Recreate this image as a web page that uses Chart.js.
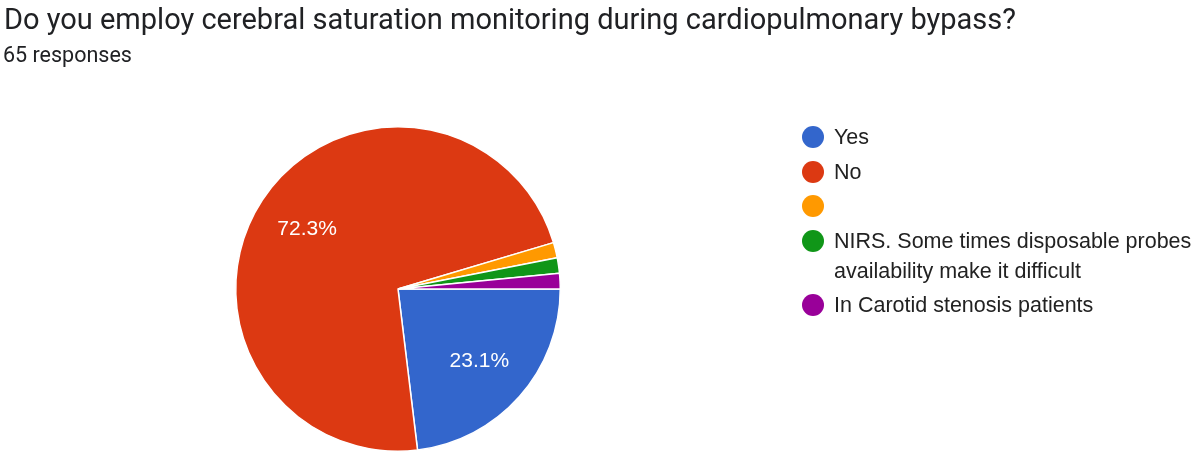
<!DOCTYPE html>
<html>
<head>
<meta charset="utf-8">
<script src="https://cdn.jsdelivr.net/npm/chart.js@4/dist/chart.umd.min.js"></script>
<style>
  body { margin: 0; background: #fff; width: 1200px; height: 456px; overflow: hidden; position: relative; }
  #title { position: absolute; left: 4px; top: 2px; font: 29px Roboto, sans-serif; color: #202124; white-space: nowrap; }
  #sub { position: absolute; left: 3px; top: 42px; font: 21.5px Roboto, sans-serif; color: #202124; }
  #wrap { position: absolute; left: 0; top: 0; width: 1200px; height: 456px; }
  #legend { position: absolute; left: 802px; top: 122px; font: 21.5px "Liberation Sans", Arial, sans-serif; color: #222; }
  .item { display: flex; align-items: flex-start; margin-bottom: 4.5px; line-height: 30px; }
  .dot { width: 22px; height: 22px; border-radius: 50%; flex: none; margin-right: 10px; margin-top: 4px; }
</style>
</head>
<body>
<div id="wrap"><canvas id="chart" width="1200" height="456"></canvas></div>
<div id="title">Do you employ cerebral saturation monitoring during cardiopulmonary bypass?</div>
<div id="sub">65 responses</div>
<div id="legend"></div>
<script>
const labels = ["Yes", "No", "", "NIRS. Some times disposable probes\navailability make it difficult", "In Carotid stenosis patients"];
const counts = [15, 47, 1, 1, 1];
const colors = ["#3366cc", "#dc3912", "#ff9900", "#109618", "#990099"];

// legend
const legend = document.getElementById("legend");
labels.forEach((l, i) => {
  const row = document.createElement("div");
  row.className = "item";
  const dot = document.createElement("span");
  dot.className = "dot";
  dot.style.background = colors[i];
  const txt = document.createElement("span");
  txt.innerHTML = l.split("\n").join("<br>") || "&nbsp;";
  row.appendChild(dot);
  row.appendChild(txt);
  legend.appendChild(row);
});

const total = counts.reduce((a, b) => a + b, 0);

const pctLabels = {
  id: "pctLabels",
  afterDatasetsDraw(chart) {
    const ctx = chart.ctx;
    const meta = chart.getDatasetMeta(0);
    ctx.save();
    ctx.fillStyle = "#fff";
    ctx.font = "21px 'Liberation Sans', Arial, sans-serif";
    ctx.textAlign = "center";
    ctx.textBaseline = "middle";
    meta.data.forEach((arc, i) => {
      const frac = counts[i] / total;
      if (frac < 0.05) return;
      const mid = (arc.startAngle + arc.endAngle) / 2;
      const r = arc.outerRadius * 0.67;
      ctx.fillText((frac * 100).toFixed(1) + "%", arc.x + Math.cos(mid) * r, arc.y + Math.sin(mid) * r);
    });
    ctx.restore();
  }
};

new Chart(document.getElementById("chart"), {
  type: "pie",
  data: {
    labels,
    datasets: [{
      data: counts,
      backgroundColor: colors,
      borderColor: "#fff",
      borderWidth: 1.5
    }]
  },
  options: {
    responsive: false,
    animation: false,
    rotation: 90,
    layout: { padding: { left: 235, right: 639, top: 126, bottom: 4 } },
    plugins: { legend: { display: false }, tooltip: { enabled: false } }
  },
  plugins: [pctLabels]
});
</script>
</body>
</html>
